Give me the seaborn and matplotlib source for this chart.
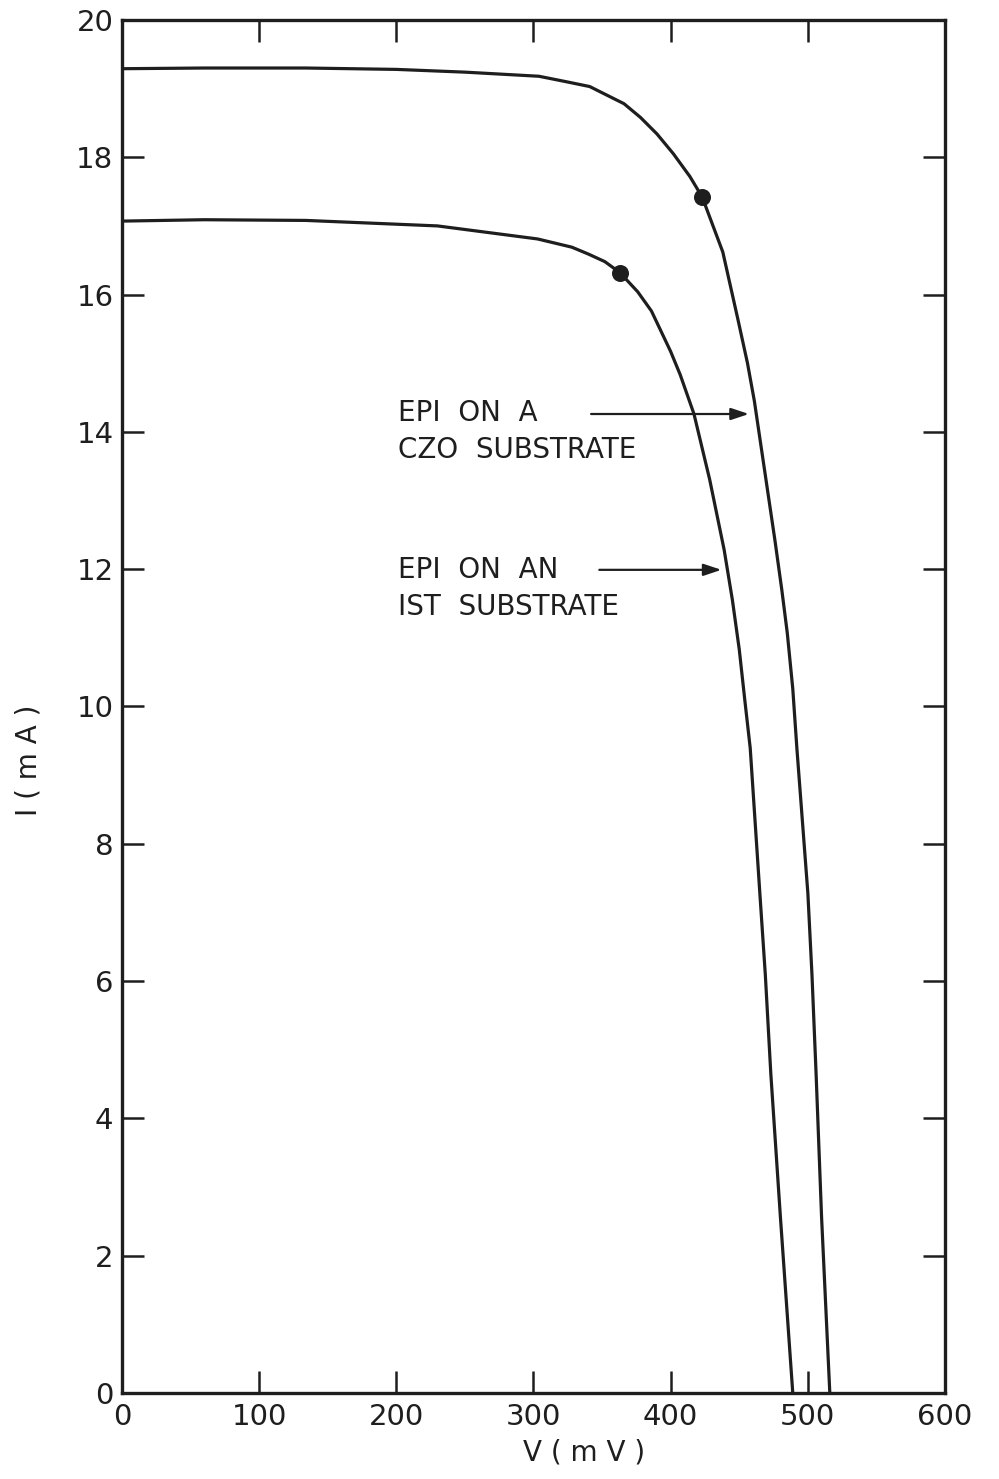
import matplotlib
matplotlib.use("Agg")
import matplotlib.pyplot as plt
import seaborn as sns
import pandas as pd

# ---- data ----
v_czo = [0, 60, 134, 200, 250, 304, 324, 341, 353, 366, 378, 390, 402, 414,
         423, 438, 449, 456, 461, 476, 481, 485, 489, 492, 500, 503, 506, 510, 516]
i_czo = [19.29, 19.30, 19.30, 19.28, 19.24, 19.18, 19.10, 19.03, 18.91, 18.78,
         18.58, 18.34, 18.05, 17.72, 17.42, 16.62, 15.64, 15.00, 14.45, 12.42,
         11.70, 11.07, 10.26, 9.39, 7.28, 6.09, 4.65, 2.56, 0.0]

v_ist = [0, 60, 134, 230, 303, 328, 340, 352, 363, 376, 386, 400, 407, 417,
         428.5, 439, 445, 450, 454, 458, 465, 469, 473, 480, 489]
i_ist = [17.07, 17.09, 17.08, 17.00, 16.81, 16.69, 16.59, 16.48, 16.32, 16.04,
         15.76, 15.17, 14.83, 14.26, 13.30, 12.28, 11.55, 10.83, 10.10, 9.39,
         7.28, 6.09, 4.65, 2.56, 0.0]

mpp_v = [423, 363]
mpp_i = [17.42, 16.32]

x_ticks = [0, 100, 200, 300, 400, 500, 600]
y_ticks = [0, 2, 4, 6, 8, 10, 12, 14, 16, 18, 20]
y_ticklabels = ["0", "2", "4", "6", "8", "10", "12", "14", "16", "18", "20"]

label_czo = "EPI  ON  A\nCZO  SUBSTRATE"
label_ist = "EPI  ON  AN\nIST  SUBSTRATE"

# ---- style ----
sns.set_theme(style="ticks")
plt.rcParams["font.family"] = ["DejaVu Sans"]
ink = "#1e1e1e"

fig = plt.figure(figsize=(9.99, 14.79), dpi=100)
ax = fig.add_axes([0.122, 0.0582, 0.824, 0.9283])

df_czo = pd.DataFrame({"V": v_czo, "I": i_czo})
df_ist = pd.DataFrame({"V": v_ist, "I": i_ist})
sns.lineplot(data=df_czo, x="V", y="I", sort=False, estimator=None,
             color=ink, lw=2.3, ax=ax)
sns.lineplot(data=df_ist, x="V", y="I", sort=False, estimator=None,
             color=ink, lw=2.3, ax=ax)
sns.scatterplot(x=mpp_v, y=mpp_i, s=150, color=ink, edgecolor=ink,
                linewidth=0, ax=ax, zorder=5)

ax.set_xlim(0, 600)
ax.set_ylim(0, 20)
ax.set_xticks(x_ticks)
ax.set_xticklabels([str(t) for t in x_ticks])
ax.set_yticks(y_ticks)
ax.set_yticklabels(y_ticklabels)

for s in ax.spines.values():
    s.set_visible(True)
    s.set_linewidth(2.4)
    s.set_color(ink)

ax.tick_params(axis="both", which="major", direction="in", length=16,
               width=1.8, color=ink, labelsize=21, labelcolor=ink,
               top=True, right=True)
ax.tick_params(axis="x", pad=7)
ax.tick_params(axis="y", pad=6)

ax.set_xlabel("")
ax.set_ylabel("")
fig.text(0.585, 1 - 1453 / 1479, "V ( m V )", ha="center", va="center",
         fontsize=20, color=ink)
fig.text(28 / 999, 1 - 760 / 1479, "I ( m A )", ha="center", va="center",
         rotation=90, fontsize=20, color=ink)

# annotations
ax.text(201, 14.0, label_czo, ha="left", va="center", fontsize=20,
        color=ink, linespacing=1.4)
ax.text(201, 11.72, label_ist, ha="left", va="center", fontsize=20,
        color=ink, linespacing=1.4)
ax.annotate("", xy=(457, 14.26), xytext=(342, 14.26),
            arrowprops=dict(arrowstyle="-|>,head_length=0.9,head_width=0.3",
                            color=ink, lw=1.6, shrinkA=0, shrinkB=0))
ax.annotate("", xy=(437, 11.99), xytext=(348, 11.99),
            arrowprops=dict(arrowstyle="-|>,head_length=0.9,head_width=0.3",
                            color=ink, lw=1.6, shrinkA=0, shrinkB=0))

fig.savefig("out.png", dpi=100, facecolor="white")
